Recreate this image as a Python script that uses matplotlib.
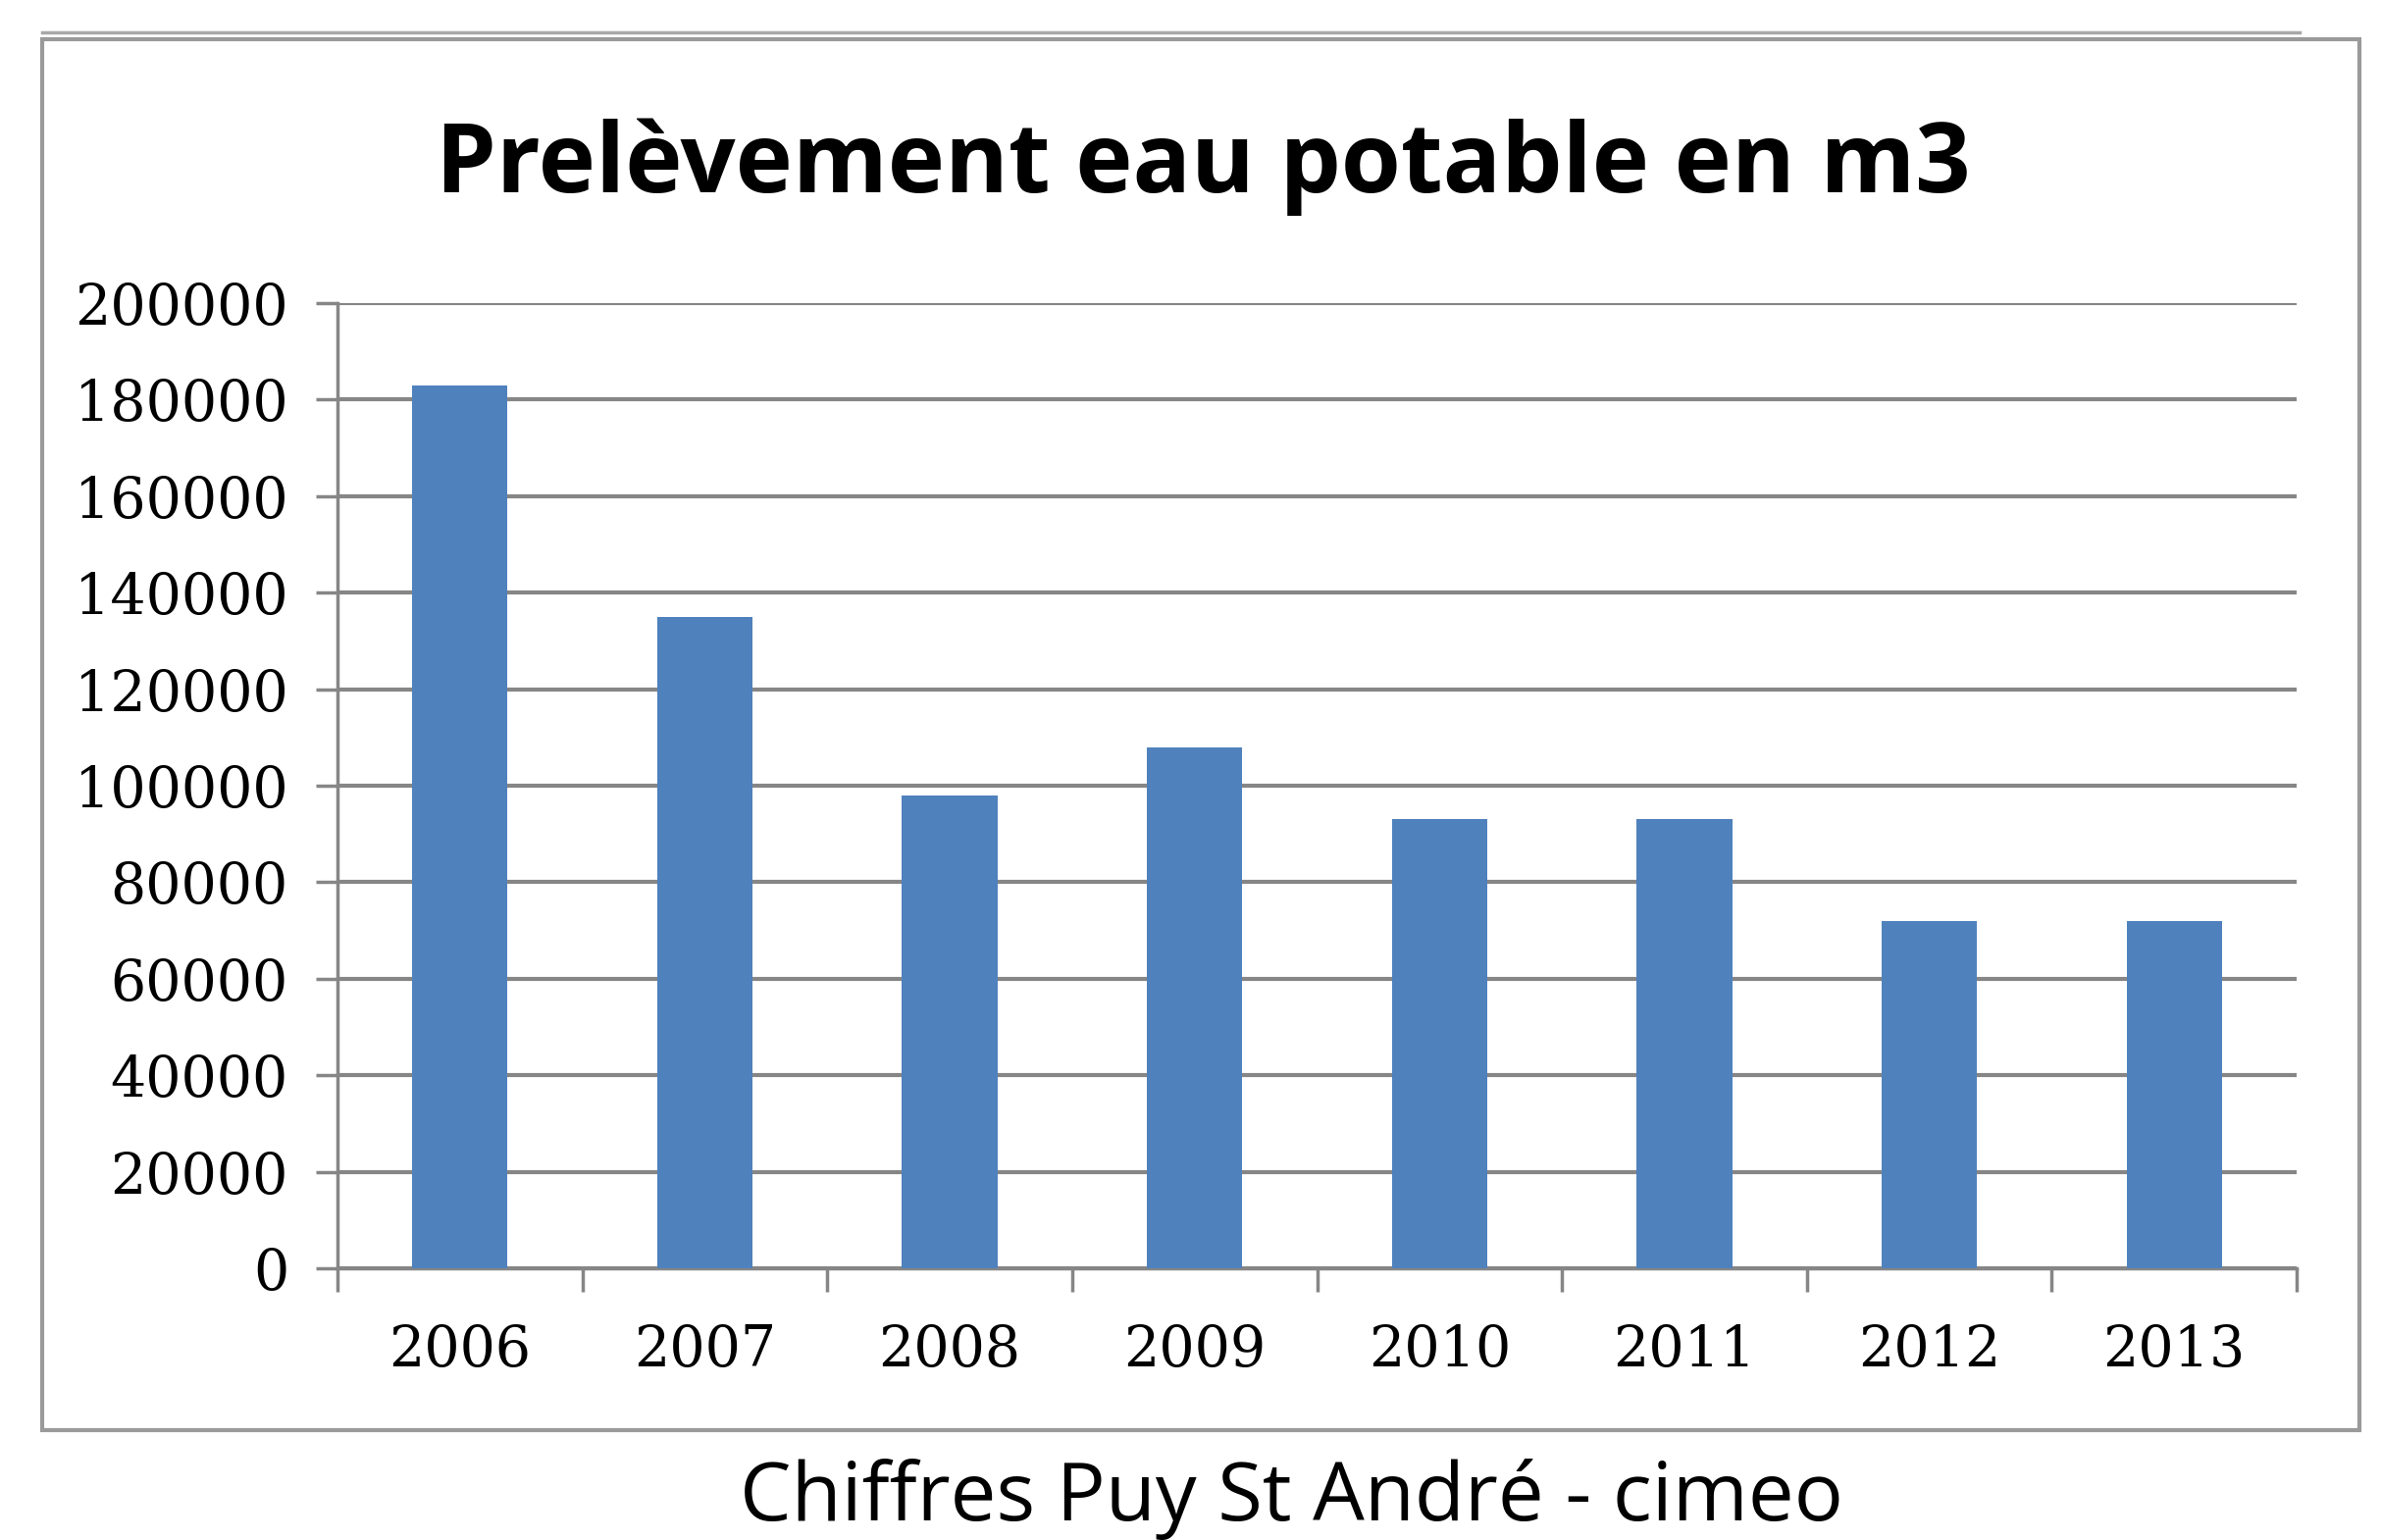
import matplotlib
matplotlib.use("Agg")
import matplotlib.pyplot as plt
from matplotlib.patches import Rectangle
from matplotlib.lines import Line2D
import numpy as np

years = ["2006", "2007", "2008", "2009", "2010", "2011", "2012", "2013"]
values = [183000, 135000, 98000, 108000, 93000, 93000, 72000, 72000]
y_ticks = [0, 20000, 40000, 60000, 80000, 100000, 120000, 140000, 160000, 180000, 200000]
title = "Prelèvement eau potable en m3"
caption = "Chiffres Puy St André - cimeo"

W, H = 2427, 1570
DPI = 100
fig = plt.figure(figsize=(W / DPI, H / DPI), dpi=DPI)
fig.patch.set_facecolor("white")

grid_color = "#868686"

ax = fig.add_axes([344 / W, 1 - 1293 / H, (2341 - 344) / W, (1293 - 309) / H])
x = np.arange(len(years))
ax.bar(x, values, width=0.39, color="#4F81BD", zorder=3)
ax.set_xlim(-0.5, len(years) - 0.5)
ax.set_ylim(0, 200000)
ax.set_yticks(y_ticks)
ax.set_yticklabels([str(v) for v in y_ticks], fontfamily="DejaVu Serif", fontsize=41)
ax.yaxis.grid(True, color=grid_color, linewidth=3, zorder=1)
ax.set_axisbelow(True)
ax.tick_params(axis="y", length=16, width=2.5, color=grid_color, pad=20, direction="out")

ax.set_xticks(x)
ax.set_xticklabels(years, fontfamily="DejaVu Serif", fontsize=41)
ax.tick_params(axis="x", which="major", length=0, pad=40)
ax.set_xticks(np.arange(-0.5, len(years), 1.0), minor=True)
ax.tick_params(axis="x", which="minor", length=17, width=2.5, color=grid_color, direction="out")

for s in ["top", "right"]:
    ax.spines[s].set_visible(False)
for s in ["left", "bottom"]:
    ax.spines[s].set_color(grid_color)
    ax.spines[s].set_linewidth(2.5)

# outer chart frame
fig.add_artist(Rectangle((43 / W, 1 - 1458 / H), (2405 - 43) / W, (1458 - 40) / H,
                         transform=fig.transFigure, fill=False, edgecolor="#9a9a9a", linewidth=3))
fig.add_artist(Line2D([43 / W, 2344 / W], [1 - 33 / H, 1 - 33 / H], transform=fig.transFigure,
                      color="#a8a8a8", linewidth=2.5))

fig.text(1226 / W, 1 - 170 / H, title, ha="center", va="center",
         fontfamily="Open Sans", fontweight="bold", fontsize=71)
fig.text(1316 / W, 1 - 1529 / H, caption, ha="center", va="center",
         fontfamily="Open Sans", fontsize=60)

fig.savefig("out.png", dpi=DPI)
